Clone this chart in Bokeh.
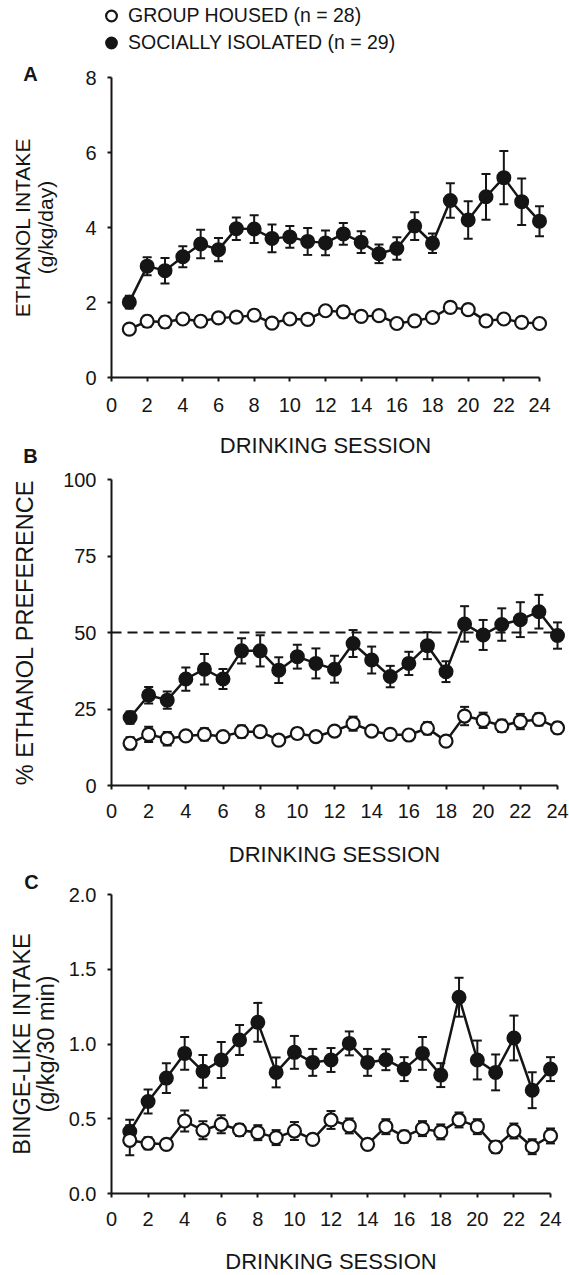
from bokeh.plotting import figure
from bokeh.models import (ColumnDataSource, Whisker, TeeHead, Range1d, FixedTicker,
                          Label, Legend, LegendItem, NumeralTickFormatter, LinearAxis)
from bokeh.embed import file_html
from bokeh.resources import INLINE

# ---------------- data ----------------
sessions = list(range(1, 25))
x_ticks = list(range(0, 25, 2))

intake_gh = [1.29, 1.50, 1.48, 1.56, 1.50, 1.59, 1.61, 1.66, 1.45, 1.56, 1.55, 1.78,
             1.75, 1.63, 1.65, 1.44, 1.51, 1.60, 1.87, 1.81, 1.51, 1.56, 1.47, 1.44]
intake_gh_sem = [0.10, 0.15, 0.15, 0.12, 0.14, 0.08, 0.13, 0.14, 0.08, 0.10, 0.10, 0.10,
                 0.15, 0.12, 0.12, 0.05, 0.05, 0.10, 0.14, 0.14, 0.10, 0.10, 0.05, 0.05]
intake_si = [2.01, 2.97, 2.85, 3.22, 3.56, 3.41, 3.97, 3.96, 3.71, 3.75, 3.63, 3.59,
             3.83, 3.61, 3.30, 3.44, 4.04, 3.58, 4.72, 4.20, 4.82, 5.33, 4.69, 4.17]
intake_si_sem = [0.17, 0.24, 0.34, 0.28, 0.38, 0.31, 0.30, 0.37, 0.37, 0.29, 0.36, 0.33,
                 0.29, 0.29, 0.25, 0.30, 0.37, 0.26, 0.46, 0.50, 0.61, 0.71, 0.62, 0.40]
intake_ticks = [0, 2, 4, 6, 8]

pref_gh = [13.8, 16.7, 15.3, 16.2, 16.7, 16.0, 17.6, 17.6, 14.8, 17.0, 16.0, 17.8,
           20.2, 17.8, 16.7, 16.5, 18.7, 14.5, 22.7, 21.3, 19.5, 20.9, 21.6, 18.8]
pref_gh_sem = [2.0, 2.5, 2.2, 1.5, 2.0, 1.5, 2.0, 1.8, 1.0, 1.8, 1.5, 1.5,
               2.3, 1.5, 1.5, 1.5, 2.0, 0.8, 3.0, 2.5, 2.0, 2.5, 2.0, 1.8]
pref_si = [22.2, 29.5, 27.9, 34.8, 38.0, 34.8, 44.0, 44.0, 37.7, 42.1, 39.9, 38.0,
           46.4, 41.0, 35.6, 39.9, 45.7, 37.2, 52.8, 49.2, 52.6, 54.2, 56.8, 49.0]
pref_si_sem = [2.0, 2.7, 2.8, 3.8, 5.0, 3.3, 4.1, 5.1, 4.2, 3.9, 4.9, 4.4,
               4.4, 4.4, 3.5, 3.8, 4.4, 3.4, 5.8, 4.9, 5.3, 5.7, 5.5, 4.3]
pref_ticks = [0, 25, 50, 75, 100]
pref_reference = 50

binge_gh = [0.356, 0.336, 0.329, 0.485, 0.423, 0.463, 0.425, 0.407, 0.374, 0.418, 0.362, 0.492,
            0.452, 0.329, 0.447, 0.380, 0.434, 0.412, 0.492, 0.447, 0.311, 0.418, 0.313, 0.385]
binge_gh_sem = [0.10, 0.04, 0.03, 0.07, 0.06, 0.06, 0.04, 0.05, 0.05, 0.06, 0.03, 0.06,
                0.05, 0.03, 0.05, 0.04, 0.05, 0.05, 0.05, 0.05, 0.04, 0.05, 0.05, 0.05]
binge_si = [0.414, 0.615, 0.772, 0.937, 0.817, 0.893, 1.027, 1.145, 0.810, 0.944, 0.877, 0.893,
            1.004, 0.877, 0.895, 0.832, 0.937, 0.792, 1.313, 0.893, 0.810, 1.040, 0.691, 0.832]
binge_si_sem = [0.08, 0.08, 0.10, 0.11, 0.11, 0.12, 0.10, 0.13, 0.10, 0.11, 0.09, 0.08,
                0.08, 0.09, 0.07, 0.08, 0.11, 0.08, 0.13, 0.13, 0.12, 0.15, 0.12, 0.08]
binge_ticks = [0, 0.5, 1.0, 1.5, 2.0]

label_gh = "GROUP HOUSED (n = 28)"
label_si = "SOCIALLY ISOLATED (n = 29)"
x_title = "DRINKING SESSION"

# ---------------- style / layout ----------------
W, H = 569, 1275
FONT = "Liberation Sans"
INK = "#151515"
TICK_FS = "20px"
XTITLE_FS = "22px"


def x_range_for(px_zero, px_end, end_value):
    s = (px_end - px_zero) / end_value
    return Range1d(-px_zero / s, (W - px_zero) / s)


def y_range_for(px_zero, px_top, top_value):
    s = (px_zero - px_top) / top_value
    return Range1d(-(H - px_zero) / s, px_zero / s)


p = figure(width=W, height=H, x_axis_type=None, y_axis_type=None,
           x_range=Range1d(0, 1), y_range=Range1d(0, 1),
           min_border=0, output_backend="svg", toolbar_location=None,
           title_location=None, background_fill_color="white",
           border_fill_color="white")
p.outline_line_color = None

panels = [
    dict(key="A", gh=intake_gh, gh_sem=intake_gh_sem, si=intake_si, si_sem=intake_si_sem,
         ticks=intake_ticks, ylabel="ETHANOL INTAKE\n(g/kg/day)", fmt=None,
         xpx=(111, 539), ypx=(377, 77), ylab_fs="21px", ylab_lh=1.02, ylab_standoff=25,
         xtick_standoff=16, xlab_standoff=18, letter_xy=(30, 73)),
    dict(key="B", gh=pref_gh, gh_sem=pref_gh_sem, si=pref_si, si_sem=pref_si_sem,
         ticks=pref_ticks, ylabel="% ETHANOL PREFERENCE", fmt=None,
         xpx=(111, 557), ypx=(785, 479), ylab_fs="23.5px", ylab_lh=0.92, ylab_standoff=22,
         xtick_standoff=14, xlab_standoff=21, letter_xy=(30, 455)),
    dict(key="C", gh=binge_gh, gh_sem=binge_gh_sem, si=binge_si, si_sem=binge_si_sem,
         ticks=binge_ticks, ylabel="BINGE-LIKE INTAKE\n(g/kg/30 min)", fmt="0.0",
         xpx=(111, 550), ypx=(1193, 894), ylab_fs="23.5px", ylab_lh=0.92, ylab_standoff=7,
         xtick_standoff=14, xlab_standoff=20, letter_xy=(31, 881)),
]


def style_axis(ax):
    ax.axis_line_color = INK
    ax.axis_line_width = 2
    ax.major_tick_line_color = INK
    ax.major_tick_line_width = 2
    ax.major_tick_out = 4
    ax.major_tick_in = 0
    ax.minor_tick_line_color = None
    ax.major_label_text_font = FONT
    ax.major_label_text_font_size = TICK_FS
    ax.major_label_text_color = INK
    ax.axis_label_text_font = FONT
    ax.axis_label_text_font_style = "normal"
    ax.axis_label_text_color = INK


legend_renderers = None
for cfg in panels:
    k = cfg["key"]
    xn, yn = "x" + k, "y" + k
    p.extra_x_ranges[xn] = x_range_for(cfg["xpx"][0], cfg["xpx"][1], x_ticks[-1])
    p.extra_y_ranges[yn] = y_range_for(cfg["ypx"][0], cfg["ypx"][1], cfg["ticks"][-1])

    xa = LinearAxis(x_range_name=xn, y_range_name=yn, fixed_location=0,
                    bounds=(x_ticks[0], x_ticks[-1]), ticker=FixedTicker(ticks=x_ticks),
                    axis_label=x_title)
    style_axis(xa)
    xa.major_label_standoff = cfg["xtick_standoff"]
    xa.axis_label_text_font_size = XTITLE_FS
    xa.axis_label_standoff = cfg["xlab_standoff"]
    p.add_layout(xa, "below")

    ya = LinearAxis(x_range_name=xn, y_range_name=yn, fixed_location=0,
                    bounds=(cfg["ticks"][0], cfg["ticks"][-1]),
                    ticker=FixedTicker(ticks=cfg["ticks"]), axis_label=cfg["ylabel"])
    style_axis(ya)
    ya.major_label_standoff = 11
    ya.axis_label_text_font_size = cfg["ylab_fs"]
    ya.axis_label_text_line_height = cfg["ylab_lh"]
    ya.axis_label_standoff = cfg["ylab_standoff"]
    if cfg["fmt"]:
        ya.formatter = NumeralTickFormatter(format=cfg["fmt"])
    p.add_layout(ya, "left")

    if k == "B":
        p.segment(x0=[x_ticks[0]], x1=[x_ticks[-1]], y0=[pref_reference], y1=[pref_reference],
                  x_range_name=xn, y_range_name=yn, line_color=INK, line_width=2,
                  line_dash="10 6")

    gh, gs, si, ss = cfg["gh"], cfg["gh_sem"], cfg["si"], cfg["si_sem"]
    src_gh = ColumnDataSource(dict(x=sessions, y=gh,
                                   lo=[a - b for a, b in zip(gh, gs)],
                                   hi=[a + b for a, b in zip(gh, gs)]))
    src_si = ColumnDataSource(dict(x=sessions, y=si,
                                   lo=[a - b for a, b in zip(si, ss)],
                                   hi=[a + b for a, b in zip(si, ss)]))

    for src in (src_si, src_gh):
        p.add_layout(Whisker(source=src, base="x", upper="hi", lower="lo",
                             x_range_name=xn, y_range_name=yn,
                             line_color=INK, line_width=2, level="underlay",
                             upper_head=TeeHead(size=9, line_color=INK, line_width=2),
                             lower_head=TeeHead(size=9, line_color=INK, line_width=2)))

    p.line("x", "y", source=src_si, x_range_name=xn, y_range_name=yn,
           line_color=INK, line_width=2.5)
    p.line("x", "y", source=src_gh, x_range_name=xn, y_range_name=yn,
           line_color=INK, line_width=2.5)
    r_si = p.scatter("x", "y", source=src_si, x_range_name=xn, y_range_name=yn,
                     size=13, marker="circle", fill_color=INK, line_color=INK, line_width=2)
    r_gh = p.scatter("x", "y", source=src_gh, x_range_name=xn, y_range_name=yn,
                     size=13, marker="circle", fill_color="white", line_color=INK,
                     line_width=2.2)
    if legend_renderers is None:
        legend_renderers = (r_gh, r_si)

    lx, ly = cfg["letter_xy"]
    p.add_layout(Label(x=lx, y=H - ly, x_units="screen", y_units="screen", text=k,
                       text_font=FONT, text_font_style="bold", text_font_size="20px",
                       text_color=INK, text_align="center", text_baseline="middle"))

legend = Legend(items=[LegendItem(label=label_gh, renderers=[legend_renderers[0]]),
                       LegendItem(label=label_si, renderers=[legend_renderers[1]])],
                location=(96, H - 55.5), glyph_width=30, glyph_height=27, spacing=0,
                label_standoff=2, padding=0, margin=0, label_height=27,
                background_fill_alpha=0, border_line_alpha=0,
                label_text_font=FONT, label_text_font_size="19.5px",
                label_text_color=INK)
p.add_layout(legend)

open("out.html", "w").write(file_html(p, INLINE))
